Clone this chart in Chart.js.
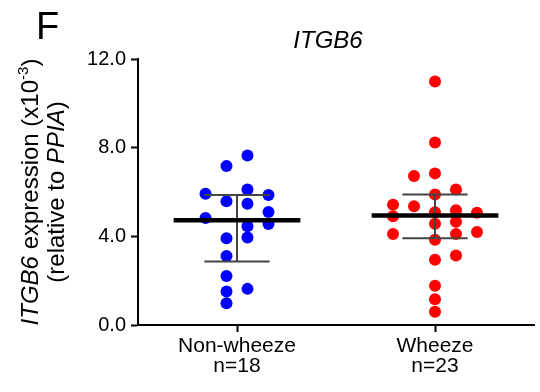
<!DOCTYPE html>
<html lang="en">
<head>
  <meta charset="utf-8" />
  <title>ITGB6</title>
  <script src="https://cdn.jsdelivr.net/npm/chart.js"></script>
  <style>
    html, body { margin: 0; padding: 0; background: #fff; }
    #wrap { width: 540px; height: 392px; position: relative; }
  </style>
</head>
<body>
  <div id="wrap"><canvas id="dotChart"></canvas></div>

  <script>
    // groups and values (x10^-3, relative to PPIA)
    const groups = ['Non-wheeze', 'Wheeze'];
    const nonWheeze = [7.65, 7.17, 6.11, 5.92, 5.86, 5.58, 5.47, 5.10, 4.83, 4.56, 4.45, 3.95, 3.91, 3.11, 2.21, 1.63, 1.51, 0.98];
    const wheeze    = [10.99, 8.23, 6.84, 6.72, 6.11, 5.89, 5.43, 5.36, 5.18, 5.09, 5.06, 4.91, 4.66, 4.57, 4.20, 4.11, 4.11, 3.85, 3.14, 2.94, 1.77, 1.16, 0.60];
    // swarm column of each dot (layout only)
    const nonWheezeCol = [0.5, -0.5, 0.5, -1.5, 1.5, -0.5, 0.5, 1.5, -1.5, 1.5, 0.5, 0.5, -0.5, -0.5, -0.5, 0.5, -0.5, -0.5];
    const wheezeCol    = [0, 0, 0, -1, 1, 0, -2, -1, 1, 0, 2, -2, 1, 0, 2, -2, 1, 0, 1, 0, 0, 0, 0];
    // median and interquartile range
    const medians = [4.72, 4.94];
    const q1      = [2.87, 3.91];
    const q3      = [5.86, 5.89];
    const yTicks  = [0, 4, 8, 12];

    const FONT = '"Liberation Sans", Arial, sans-serif';
    Chart.defaults.font.family = FONT;
    Chart.defaults.color = '#000';

    const colStep = 0.106;
    const toPts = (vals, cols, g) => vals.map((v, i) => ({ x: g + 1 + cols[i] * colStep, y: v }));

    const statLines = {
      id: 'statLines',
      afterDatasetsDraw(chart) {
        const { ctx, scales: { x, y } } = chart;
        ctx.save();
        groups.forEach((g, i) => {
          const c = i + 1;
          // IQR
          ctx.strokeStyle = '#444';
          ctx.lineWidth = 2;
          ctx.beginPath();
          ctx.moveTo(x.getPixelForValue(c - 0.165), y.getPixelForValue(q3[i]));
          ctx.lineTo(x.getPixelForValue(c + 0.165), y.getPixelForValue(q3[i]));
          ctx.moveTo(x.getPixelForValue(c - 0.165), y.getPixelForValue(q1[i]));
          ctx.lineTo(x.getPixelForValue(c + 0.165), y.getPixelForValue(q1[i]));
          ctx.moveTo(x.getPixelForValue(c), y.getPixelForValue(q1[i]));
          ctx.lineTo(x.getPixelForValue(c), y.getPixelForValue(q3[i]));
          ctx.stroke();
          // median
          ctx.strokeStyle = '#000';
          ctx.lineWidth = 4.5;
          ctx.beginPath();
          ctx.moveTo(x.getPixelForValue(c - 0.32), y.getPixelForValue(medians[i]));
          ctx.lineTo(x.getPixelForValue(c + 0.32), y.getPixelForValue(medians[i]));
          ctx.stroke();
        });
        ctx.restore();
      }
    };

    // draws runs of [text, font, dy] in one line
    function runsWidth(ctx, runs) {
      return runs.reduce((w, r) => { ctx.font = r[1]; return w + ctx.measureText(r[0]).width; }, 0);
    }
    function drawRuns(ctx, runs, cx, base) {
      let x = cx - runsWidth(ctx, runs) / 2;
      runs.forEach(r => {
        ctx.font = r[1];
        ctx.fillText(r[0], x, base + (r[2] || 0));
        x += ctx.measureText(r[0]).width;
      });
    }

    const labels = {
      id: 'labels',
      afterDraw(chart) {
        const { ctx } = chart;
        ctx.save();
        ctx.fillStyle = '#000';
        ctx.textBaseline = 'alphabetic';
        ctx.textAlign = 'left';
        ctx.font = '38px ' + FONT;
        ctx.fillText('F', 36, 39);
        drawRuns(ctx, [['ITGB6', 'italic 24px ' + FONT]], 328, 48);

        const reg = '24px ' + FONT, it = 'italic 24px ' + FONT, sup = '15px ' + FONT;
        ctx.translate(0, 192);
        ctx.rotate(-Math.PI / 2);
        drawRuns(ctx, [['ITGB6', it], [' expression (x10', reg], ['-3', sup, -10], [')', reg]], 0, 38);
        drawRuns(ctx, [['(relative to ', reg], ['PPIA', it], [')', reg]], 0, 64);
        ctx.restore();
      }
    };

    new Chart(document.getElementById('dotChart'), {
      type: 'scatter',
      data: {
        datasets: [
          { label: groups[0], data: toPts(nonWheeze, nonWheezeCol, 0), backgroundColor: '#0000ff', borderWidth: 0, pointRadius: 6 },
          { label: groups[1], data: toPts(wheeze, wheezeCol, 1), backgroundColor: '#ff0000', borderWidth: 0, pointRadius: 6 }
        ]
      },
      options: {
        responsive: true,
        maintainAspectRatio: false,
        animation: false,
        clip: false,
        layout: { padding: { top: 59, left: 0, right: 0, bottom: 0 } },
        plugins: { legend: { display: false }, tooltip: { enabled: false } },
        scales: {
          x: {
            type: 'linear',
            min: 0.5,
            max: 2.5,
            afterBuildTicks: s => { s.ticks = groups.map((g, i) => ({ value: i + 1 })); },
            afterFit: s => { s.height = 67; },
            border: { display: true, color: '#000', width: 2 },
            grid: { drawOnChartArea: false, drawTicks: true, tickLength: 7, tickColor: '#000', tickWidth: 2 },
            ticks: {
              padding: 4,
              font: { size: 21, lineHeight: 0.95 },
              callback: v => {
                const i = Math.round(v) - 1;
                const n = i === 0 ? nonWheeze.length : wheeze.length;
                return [groups[i], 'n=' + n];
              }
            }
          },
          y: {
            min: 0,
            max: 12,
            afterBuildTicks: s => { s.ticks = yTicks.map(v => ({ value: v })); },
            afterFit: s => { s.width = 138; },
            border: { display: true, color: '#000', width: 2 },
            grid: { drawOnChartArea: false, drawTicks: true, tickLength: 7, tickColor: '#000', tickWidth: 2 },
            ticks: { padding: 5, font: { size: 20 }, callback: v => v.toFixed(1) }
          }
        }
      },
      plugins: [statLines, labels]
    });
  </script>
</body>
</html>
